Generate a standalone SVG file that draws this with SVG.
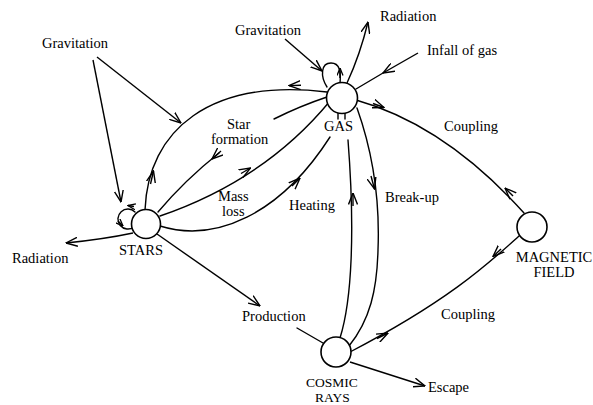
<svg xmlns="http://www.w3.org/2000/svg" width="593" height="405" viewBox="0 0 593 405">
<style>
text{font-family:"Liberation Serif","Times New Roman",serif;font-size:14.5px;fill:#000}
.t2{font-size:13.5px}
.c{fill:none;stroke:#000;stroke-width:1.4;stroke-linecap:round}
.a{fill:none;stroke:#000;stroke-width:1.4;marker-end:url(#ah)}
.s{fill:none;stroke:#000;stroke-width:1.4;marker-end:url(#as)}
.n{fill:#fff;stroke:#000;stroke-width:1.6}
</style>
<defs>
<marker id="ah" viewBox="0 0 12 10" refX="11.5" refY="5" markerWidth="12" markerHeight="10" markerUnits="userSpaceOnUse" orient="auto">
<path d="M0,0.5 L11.5,5 L0,9.5" fill="none" stroke="#000" stroke-width="1.4"/>
</marker>
<marker id="as" viewBox="0 0 8 7" refX="7.5" refY="3.5" markerWidth="8" markerHeight="7" markerUnits="userSpaceOnUse" orient="auto">
<path d="M0,0.5 L7.5,3.5 L0,6.5" fill="none" stroke="#000" stroke-width="1.3"/>
</marker>
</defs>
<rect width="593" height="405" fill="#fff"/>
<g id="connectors">
<path class="a" d="M93,60 L121,202"/>
<path class="a" d="M97,57 L181,123"/>
<path class="c" d="M145,210 C148,130 210,78 327,92"/>
<path class="a" d="M150.5,184 L153.5,171"/>
<path class="a" d="M301,85.2 L289,85.6"/>
<path class="c" d="M327,97 Q300,106 274,119"/>
<path class="c" d="M219,153 Q185,180 158,212"/>
<path class="a" d="M221,151 L212,159"/>
<path class="c" d="M160,216 Q265,180 330,101"/>
<path class="a" d="M241,173.5 L250.5,168"/>
<path class="c" d="M160,226 C215,243 280,215 330,137"/>
<path class="a" d="M292,186 L300,178"/>
<path class="c" d="M338,113 L338,119 M345,113 L345,119"/>
<path class="a" d="M157,234 L260,306"/>
<path class="c" d="M297,328 L323,343"/>
<path class="a" d="M133,233 Q105,239 66,243"/>
<path class="c" d="M135,212 A10,10 0 1 0 134,227"/>
<path class="s" d="M134,206.5 L128,205.5"/>
<path class="s" d="M118,221 L123,226"/>
<path class="c" d="M327,87 C320,76 321,63 331,63 C340,63 341,72 340,84"/>
<path class="s" d="M340,78 L340,68"/>
<path class="a" d="M285,39 L322,71"/>
<path class="a" d="M347,83 Q360,55 368,22"/>
<path class="a" d="M418,53 L383,73"/>
<path class="c" d="M383,73 L356,89"/>
<path class="c" d="M356,100 Q445,125 524,213"/>
<path class="a" d="M373,103.5 L384,107.5"/>
<path class="a" d="M513,196 L505,188"/>
<path class="c" d="M519,236 C490,262 450,300 350,352"/>
<path class="a" d="M501,249 L493,256.5"/>
<path class="a" d="M377,338.5 L388,333"/>
<path class="c" d="M340,338 C352,300 355,230 348,140"/>
<path class="a" d="M353,206 L353,193"/>
<path class="c" d="M357,108 C372,150 380,200 378,250 C377,290 370,320 349,346"/>
<path class="a" d="M371,176 L374.5,189"/>
<path class="a" d="M350,362 L425,386"/>
</g>
<g id="stars"><circle class="n" cx="146" cy="224" r="14.5"/><text x="119" y="255">STARS</text></g>
<g id="gas"><circle class="n" cx="342" cy="98" r="15.5"/><text x="324" y="131">GAS</text></g>
<g id="magnetic-field"><circle class="n" cx="532" cy="227" r="15"/><text x="554" y="262" text-anchor="middle">MAGNETIC</text><text x="554" y="277" text-anchor="middle">FIELD</text></g>
<g id="cosmic-rays"><circle class="n" cx="336" cy="352" r="15"/><text class="t2" x="332" y="387" text-anchor="middle">COSMIC</text><text class="t2" x="332.5" y="402" text-anchor="middle">RAYS</text></g>
<g id="labels">
<text x="42" y="48">Gravitation</text>
<text x="235" y="35">Gravitation</text>
<text x="380" y="21">Radiation</text>
<text x="427" y="55">Infall of gas</text>
<text x="444" y="131">Coupling</text>
<text x="227" y="129">Star</text>
<text x="211" y="144">formation</text>
<text x="218" y="201">Mass</text>
<text x="222" y="216">loss</text>
<text x="289" y="210">Heating</text>
<text x="385" y="202">Break-up</text>
<text x="12" y="263">Radiation</text>
<text x="242" y="321">Production</text>
<text x="441" y="319">Coupling</text>
<text x="428" y="392">Escape</text>
</g>
</svg>
